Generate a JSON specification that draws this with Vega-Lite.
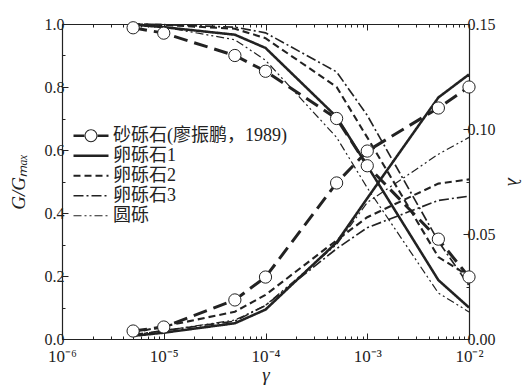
{
  "$schema": "https://vega.github.io/schema/vega-lite/v6.json",
  "width": 407,
  "height": 315,
  "autosize": "none",
  "padding": {"left": 62, "top": 24, "right": 60, "bottom": 46},
  "background": "white",
  "config": {
    "view": {"stroke": null},
    "font": "Liberation Serif",
    "axis": {
      "grid": false,
      "domainColor": "#222",
      "domainWidth": 1.2,
      "tickColor": "#222",
      "labelColor": "#222",
      "labelFont": "Liberation Serif",
      "labelFontSize": 16,
      "labelFlush": false,
      "labelOverlap": false,
      "titleFont": "Liberation Serif",
      "titleFontSize": 19,
      "titleFontWeight": "normal",
      "titleFontStyle": "italic",
      "titleColor": "#222"
    }
  },
  "data": {
    "values": [
      {"series": "砂砾石(廖振鹏，1989)", "gamma": 5e-6, "G": 0.988, "lam": 0.0038},
      {"series": "砂砾石(廖振鹏，1989)", "gamma": 1e-5, "G": 0.971, "lam": 0.0057},
      {"series": "砂砾石(廖振鹏，1989)", "gamma": 5e-5, "G": 0.90, "lam": 0.0186},
      {"series": "砂砾石(廖振鹏，1989)", "gamma": 1e-4, "G": 0.85, "lam": 0.0295},
      {"series": "砂砾石(廖振鹏，1989)", "gamma": 5e-4, "G": 0.70, "lam": 0.0743},
      {"series": "砂砾石(廖振鹏，1989)", "gamma": 1e-3, "G": 0.55, "lam": 0.0895},
      {"series": "砂砾石(廖振鹏，1989)", "gamma": 5e-3, "G": 0.317, "lam": 0.110},
      {"series": "砂砾石(廖振鹏，1989)", "gamma": 1e-2, "G": 0.197, "lam": 0.120},
      {"series": "卵砾石1", "gamma": 5e-6, "G": 0.998, "lam": 0.0015},
      {"series": "卵砾石1", "gamma": 1e-5, "G": 0.99, "lam": 0.003},
      {"series": "卵砾石1", "gamma": 5e-5, "G": 0.966, "lam": 0.0075},
      {"series": "卵砾石1", "gamma": 1e-4, "G": 0.924, "lam": 0.014},
      {"series": "卵砾石1", "gamma": 5e-4, "G": 0.705, "lam": 0.046},
      {"series": "卵砾石1", "gamma": 1e-3, "G": 0.55, "lam": 0.067},
      {"series": "卵砾石1", "gamma": 5e-3, "G": 0.187, "lam": 0.115},
      {"series": "卵砾石1", "gamma": 1e-2, "G": 0.10, "lam": 0.126},
      {"series": "卵砾石2", "gamma": 5e-6, "G": 1.0, "lam": 0.003},
      {"series": "卵砾石2", "gamma": 1e-5, "G": 0.997, "lam": 0.006},
      {"series": "卵砾石2", "gamma": 5e-5, "G": 0.985, "lam": 0.013},
      {"series": "卵砾石2", "gamma": 1e-4, "G": 0.955, "lam": 0.021},
      {"series": "卵砾石2", "gamma": 5e-4, "G": 0.80, "lam": 0.047},
      {"series": "卵砾石2", "gamma": 1e-3, "G": 0.64, "lam": 0.058},
      {"series": "卵砾石2", "gamma": 5e-3, "G": 0.26, "lam": 0.074},
      {"series": "卵砾石2", "gamma": 1e-2, "G": 0.20, "lam": 0.076},
      {"series": "卵砾石3", "gamma": 5e-6, "G": 1.0, "lam": 0.002},
      {"series": "卵砾石3", "gamma": 1e-5, "G": 0.998, "lam": 0.004},
      {"series": "卵砾石3", "gamma": 5e-5, "G": 0.99, "lam": 0.0085},
      {"series": "卵砾石3", "gamma": 1e-4, "G": 0.972, "lam": 0.016},
      {"series": "卵砾石3", "gamma": 5e-4, "G": 0.848, "lam": 0.043},
      {"series": "卵砾石3", "gamma": 1e-3, "G": 0.71, "lam": 0.053},
      {"series": "卵砾石3", "gamma": 5e-3, "G": 0.31, "lam": 0.066},
      {"series": "卵砾石3", "gamma": 1e-2, "G": 0.17, "lam": 0.068},
      {"series": "圆砾", "gamma": 5e-6, "G": 0.998, "lam": 0.002},
      {"series": "圆砾", "gamma": 1e-5, "G": 0.99, "lam": 0.004},
      {"series": "圆砾", "gamma": 5e-5, "G": 0.95, "lam": 0.009},
      {"series": "圆砾", "gamma": 1e-4, "G": 0.885, "lam": 0.016},
      {"series": "圆砾", "gamma": 5e-4, "G": 0.64, "lam": 0.045},
      {"series": "圆砾", "gamma": 1e-3, "G": 0.48, "lam": 0.065},
      {"series": "圆砾", "gamma": 5e-3, "G": 0.146, "lam": 0.088},
      {"series": "圆砾", "gamma": 1e-2, "G": 0.086, "lam": 0.096}
    ]
  },
  "layer": [
    {
      "encoding": {
        "x": {
          "field": "gamma", "type": "quantitative",
          "scale": {"type": "log", "domain": [1e-6, 1e-2]},
          "axis": {
            "orient": "bottom",
            "title": "γ",
            "titlePadding": -2,
            "labelPadding": 15,
            "labelFontSize": 17,
            "values": [1e-6,2e-6,3e-6,4e-6,5e-6,6e-6,7e-6,8e-6,9e-6,1e-5,2e-5,3e-5,4e-5,5e-5,6e-5,7e-5,8e-5,9e-5,1e-4,2e-4,3e-4,4e-4,5e-4,6e-4,7e-4,8e-4,9e-4,1e-3,2e-3,3e-3,4e-3,5e-3,6e-3,7e-3,8e-3,9e-3,1e-2],
            "tickSize": {"condition": {"test": "abs(log(datum.value)/LN10 - round(log(datum.value)/LN10)) < 0.001", "value": -6}, "value": -3},
            "labelExpr": "abs(log(datum.value)/LN10 - round(log(datum.value)/LN10)) < 0.001 ? ('10' + (round(log(datum.value)/LN10) == -6 ? '⁻⁶' : round(log(datum.value)/LN10) == -5 ? '⁻⁵' : round(log(datum.value)/LN10) == -4 ? '⁻⁴' : round(log(datum.value)/LN10) == -3 ? '⁻³' : '⁻²')) : ''"
          }
        },
        "y": {
          "field": "G", "type": "quantitative",
          "scale": {"domain": [0, 1]},
          "axis": {
            "orient": "left",
            "title": "G/Gₘₐₓ",
            "titlePadding": 16,
            "labelPadding": 4,
            "values": [0,0.1,0.2,0.3,0.4,0.5,0.6,0.7,0.8,0.9,1.0],
            "tickSize": {"condition": {"test": "round(datum.value*10) % 2 == 0", "value": -6}, "value": -3},
            "labelExpr": "round(datum.value*10) % 2 == 0 ? format(datum.value, '.1f') : ''"
          }
        }
      },
      "layer": [
        {
          "mark": {"type": "line", "color": "#222"},
          "encoding": {
            "detail": {"field": "series"},
            "strokeDash": {
              "field": "series", "type": "nominal",
              "scale": {"domain": ["砂砾石(廖振鹏，1989)", "卵砾石1", "卵砾石2", "卵砾石3", "圆砾"], "range": [[14,7],[1,0],[7,4],[10,3,2,3],[8,3,2,3,2,3]]},
              "legend": {
                "title": null,
                "orient": "none",
                "legendX": 10,
                "legendY": 102,
                "padding": 0,
                "symbolType": "stroke",
                "symbolSize": 1225,
                "symbolStrokeColor": "#222",
                "labelFont": "Liberation Serif, Noto Sans CJK SC",
                "labelFontSize": 18,
                "labelLimit": 400,
                "labelColor": "#222",
                "labelOffset": 3,
                "clipHeight": 19.5,
                "rowPadding": 0,
                "encode": {
                  "symbols": {
                    "update": {
                      "shape": {"signal": "datum.value === '砂砾石(廖振鹏，1989)' ? 'M-1,-0.075L-0.35,-0.075L-0.35,0.075L-1,0.075Z M0.35,-0.075L1,-0.075L1,0.075L0.35,0.075Z M0.37,0A0.37,0.37,0,1,0,-0.37,0A0.37,0.37,0,1,0,0.37,0Z M0.31,0A0.31,0.31,0,1,1,-0.31,0A0.31,0.31,0,1,1,0.31,0Z' : 'stroke'"},
                      "strokeWidth": {"signal": "datum.value === '砂砾石(廖振鹏，1989)' ? 0 : 1.2"},
                      "strokeDash": {"signal": "datum.value === '卵砾石2' ? [6,4] : datum.value === '卵砾石3' ? [9,3,2,3] : datum.value === '圆砾' ? [7,3,2,3,2,3] : [1,0]"},
                      "fill": {"signal": "datum.value === '砂砾石(廖振鹏，1989)' ? '#222' : 'transparent'"},
                      "stroke": {"signal": "datum.value === '砂砾石(廖振鹏，1989)' ? 'transparent' : '#222'"}
                    }
                  }
                }
              }
            },
            "strokeWidth": {
              "field": "series", "type": "nominal",
              "scale": {"domain": ["砂砾石(廖振鹏，1989)", "卵砾石1", "卵砾石2", "卵砾石3", "圆砾"], "range": [3, 1.2, 1.2, 1.2, 1.2]},
              "legend": null
            }
          }
        },
        {
          "transform": [{"filter": "datum.series === '砂砾石(廖振鹏，1989)'"}],
          "mark": {"type": "point", "shape": "circle", "filled": true, "fill": "white", "stroke": "#222", "strokeWidth": 1, "size": 150, "opacity": 1}
        }
      ]
    },
    {
      "encoding": {
        "x": {
          "field": "gamma", "type": "quantitative",
          "scale": {"type": "log", "domain": [1e-6, 1e-2]},
          "axis": {
            "orient": "top",
            "title": null,
            "labels": false,
            "values": [1e-6,2e-6,3e-6,4e-6,5e-6,6e-6,7e-6,8e-6,9e-6,1e-5,2e-5,3e-5,4e-5,5e-5,6e-5,7e-5,8e-5,9e-5,1e-4,2e-4,3e-4,4e-4,5e-4,6e-4,7e-4,8e-4,9e-4,1e-3,2e-3,3e-3,4e-3,5e-3,6e-3,7e-3,8e-3,9e-3,1e-2],
            "tickSize": {"condition": {"test": "abs(log(datum.value)/LN10 - round(log(datum.value)/LN10)) < 0.001", "value": -6}, "value": -3}
          }
        },
        "y": {
          "field": "lam", "type": "quantitative",
          "scale": {"domain": [0, 0.15]},
          "axis": {
            "orient": "right",
            "title": "λ",
            "titlePadding": 8,
            "labelPadding": 4,
            "values": [0,0.025,0.05,0.075,0.1,0.125,0.15],
            "tickSize": {"condition": {"test": "round(datum.value*40) % 2 == 0", "value": -6}, "value": -3},
            "labelExpr": "round(datum.value*40) % 2 == 0 ? format(datum.value, '.2f') : ''"
          }
        }
      },
      "layer": [
        {
          "mark": {"type": "line", "color": "#222"},
          "encoding": {
            "detail": {"field": "series"},
            "strokeDash": {"field": "series", "type": "nominal", "scale": {"domain": ["砂砾石(廖振鹏，1989)", "卵砾石1", "卵砾石2", "卵砾石3", "圆砾"], "range": [[14,7],[1,0],[7,4],[10,3,2,3],[8,3,2,3,2,3]]}},
            "strokeWidth": {"field": "series", "type": "nominal", "scale": {"domain": ["砂砾石(廖振鹏，1989)", "卵砾石1", "卵砾石2", "卵砾石3", "圆砾"], "range": [3, 1.2, 1.2, 1.2, 1.2]}, "legend": null}
          }
        },
        {
          "transform": [{"filter": "datum.series === '砂砾石(廖振鹏，1989)'"}],
          "mark": {"type": "point", "shape": "circle", "filled": true, "fill": "white", "stroke": "#222", "strokeWidth": 1, "size": 150, "opacity": 1}
        }
      ]
    }
  ],
  "resolve": {"scale": {"y": "independent"}, "axis": {"x": "independent"}}
}
